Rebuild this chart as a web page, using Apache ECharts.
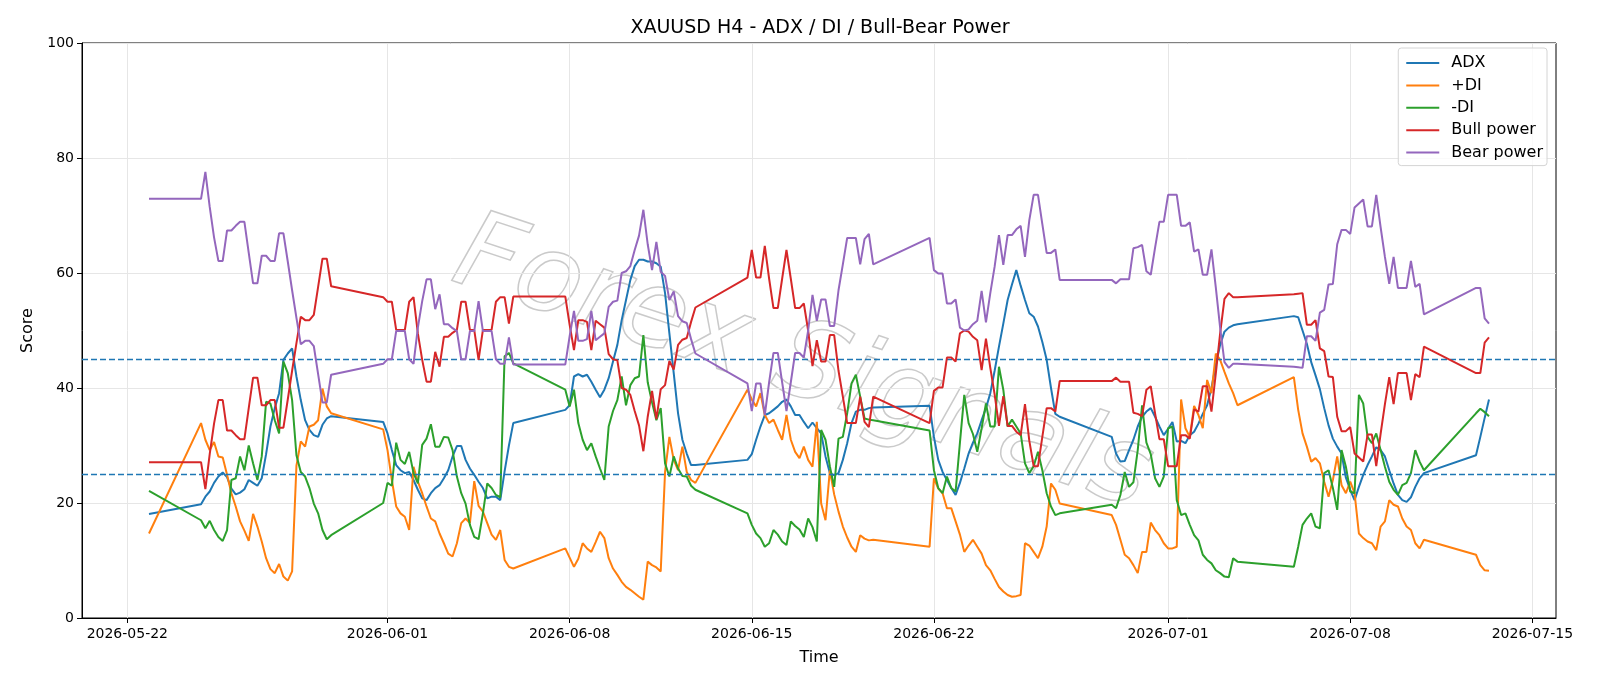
<!DOCTYPE html>
<html>
<head>
<meta charset="utf-8">
<title>XAUUSD H4 - ADX / DI / Bull-Bear Power</title>
<script src="https://cdn.jsdelivr.net/npm/echarts@6/dist/echarts.min.js"></script>
<style>
    html, body { margin: 0; padding: 0; background: #fff; }
    #chart { width: 1600px; height: 686px; }
</style>
</head>
<body>
<div id="chart"></div>
<script>
// H4 bars, 'MM-DD HH' (2026)
var adx = [
    ['05-22 20',18.1],
    ['05-24 20',19.8],['05-25 00',21.1],['05-25 04',22.0],['05-25 08',23.5],['05-25 12',24.6],['05-25 16',25.3],['05-25 20',24.5],
    ['05-26 00',22.5],['05-26 04',21.5],['05-26 08',21.8],['05-26 12',22.4],['05-26 16',24.0],['05-26 20',23.5],
    ['05-27 00',23.0],['05-27 04',24.3],['05-27 08',28.5],['05-27 12',33.3],['05-27 16',36.5],['05-27 20',39.1],
    ['05-28 00',44.9],['05-28 04',46.0],['05-28 08',46.9],['05-28 12',42.0],['05-28 16',37.9],['05-28 20',34.4],
    ['05-29 00',32.7],['05-29 04',31.8],['05-29 08',31.5],['05-29 12',33.6],['05-29 16',34.7],['05-29 20',35.1],
    ['05-31 20',34.1],
    ['06-01 00',32.1],['06-01 04',29.2],['06-01 08',26.6],['06-01 12',25.7],['06-01 16',25.2],['06-01 20',25.4],
    ['06-02 00',24.0],['06-02 04',22.3],['06-02 08',20.8],['06-02 12',20.5],['06-02 16',21.7],['06-02 20',22.6],
    ['06-03 00',23.1],['06-03 04',24.3],['06-03 08',25.7],['06-03 12',28.1],['06-03 16',29.9],['06-03 20',29.9],
    ['06-04 00',27.5],['06-04 04',26.0],['06-04 08',24.9],['06-04 12',23.7],['06-04 16',22.6],['06-04 20',20.8],
    ['06-05 00',21.1],['06-05 04',21.1],['06-05 08',20.5],['06-05 12',25.5],['06-05 16',30.0],['06-05 20',33.9],
    ['06-07 20',36.2],
    ['06-08 00',37.0],['06-08 04',42.0],['06-08 08',42.4],['06-08 12',42.0],['06-08 16',42.3],['06-08 20',41.1],
    ['06-09 00',39.7],['06-09 04',38.4],['06-09 08',39.7],['06-09 12',41.7],['06-09 16',44.6],['06-09 20',47.5],
    ['06-10 00',51.8],['06-10 04',55.3],['06-10 08',58.8],['06-10 12',61.2],['06-10 16',62.3],['06-10 20',62.3],
    ['06-11 00',62.0],['06-11 04',62.0],['06-11 08',61.7],['06-11 12',61.1],['06-11 16',56.5],['06-11 20',49.5],
    ['06-12 00',42.6],['06-12 04',35.6],['06-12 08',31.0],['06-12 12',28.6],['06-12 16',26.6],['06-12 20',26.6],
    ['06-14 20',27.5],
    ['06-15 00',28.5],['06-15 04',31.0],['06-15 08',33.3],['06-15 12',35.3],['06-15 16',35.6],['06-15 20',36.2],
    ['06-16 00',36.8],['06-16 04',37.6],['06-16 08',38.0],['06-16 12',36.8],['06-16 16',35.3],['06-16 20',35.3],
    ['06-17 00',34.1],['06-17 04',33.0],['06-17 08',34.0],['06-17 12',33.0],['06-17 16',32.1],['06-17 20',28.1],
    ['06-18 00',25.2],['06-18 04',24.8],['06-18 08',25.2],['06-18 12',27.5],['06-18 16',30.4],['06-18 20',33.9],
    ['06-19 00',35.9],['06-19 04',36.2],['06-19 08',36.2],['06-19 12',36.5],['06-19 16',36.6],
    ['06-21 20',36.9],
    ['06-22 00',31.5],['06-22 04',27.5],['06-22 08',25.4],['06-22 12',24.0],['06-22 16',22.6],['06-22 20',21.4],
    ['06-23 00',23.5],['06-23 04',26.0],['06-23 08',28.6],['06-23 12',30.5],['06-23 16',32.1],['06-23 20',34.4],
    ['06-24 00',36.5],['06-24 04',39.1],['06-24 08',43.0],['06-24 12',47.2],['06-24 16',51.2],['06-24 20',55.3],
    ['06-25 00',58.0],['06-25 04',60.5],['06-25 08',57.8],['06-25 12',55.3],['06-25 16',53.0],['06-25 20',52.4],
    ['06-26 00',50.7],['06-26 04',48.0],['06-26 08',44.9],['06-26 12',40.0],['06-26 16',35.5],['06-26 20',35.0],
    ['06-28 20',31.5],
    ['06-29 00',28.6],['06-29 04',27.2],['06-29 08',27.3],['06-29 12',29.2],['06-29 16',31.0],['06-29 20',33.3],
    ['06-30 00',35.0],['06-30 04',35.9],['06-30 08',36.5],['06-30 12',35.0],['06-30 16',33.3],['06-30 20',31.8],
    ['07-01 00',32.9],['07-01 04',34.1],['07-01 08',30.7],['07-01 12',30.8],['07-01 16',30.4],['07-01 20',31.8],
    ['07-02 00',32.4],['07-02 04',33.8],['07-02 08',35.5],['07-02 12',37.0],['07-02 16',40.0],['07-02 20',44.0],
    ['07-03 00',47.5],['07-03 04',49.8],['07-03 08',50.5],['07-03 12',50.9],['07-03 16',51.1],
    ['07-05 20',52.5],
    ['07-06 00',52.3],['07-06 04',50.0],['07-06 08',47.7],['07-06 12',44.5],['07-06 16',42.2],['07-06 20',39.8],
    ['07-07 00',36.5],['07-07 04',33.5],['07-07 08',31.2],['07-07 12',29.8],['07-07 16',28.6],['07-07 20',24.4],
    ['07-08 00',22.3],['07-08 04',20.5],['07-08 08',22.8],['07-08 12',24.9],['07-08 16',26.6],['07-08 20',28.1],
    ['07-09 00',29.7],['07-09 04',29.2],['07-09 08',28.1],['07-09 12',25.7],['07-09 16',23.4],['07-09 20',21.4],
    ['07-10 00',20.5],['07-10 04',20.2],['07-10 08',21.0],['07-10 12',22.8],['07-10 16',24.3],['07-10 20',25.2],
    ['07-12 20',28.3],
    ['07-13 00',31.5],['07-13 04',34.8],['07-13 08',38.0]
];

var plusDI = [
    ['05-22 20',14.7],
    ['05-24 20',33.9],['05-25 00',31.0],['05-25 04',29.2],['05-25 08',30.6],['05-25 12',28.1],['05-25 16',27.9],['05-25 20',24.9],
    ['05-26 00',21.7],['05-26 04',19.4],['05-26 08',16.8],['05-26 12',15.2],['05-26 16',13.4],['05-26 20',18.1],
    ['05-27 00',15.9],['05-27 04',13.3],['05-27 08',10.4],['05-27 12',8.5],['05-27 16',7.8],['05-27 20',9.4],
    ['05-28 00',7.2],['05-28 04',6.5],['05-28 08',8.1],['05-28 12',26.5],['05-28 16',30.7],['05-28 20',29.8],
    ['05-29 00',33.3],['05-29 04',33.6],['05-29 08',34.4],['05-29 12',39.9],['05-29 16',36.8],['05-29 20',35.6],
    ['05-31 20',32.8],
    ['06-01 00',29.2],['06-01 04',24.0],['06-01 08',19.4],['06-01 12',18.2],['06-01 16',17.6],['06-01 20',15.3],
    ['06-02 00',26.3],['06-02 04',23.7],['06-02 08',21.7],['06-02 12',19.4],['06-02 16',17.3],['06-02 20',16.8],
    ['06-03 00',14.7],['06-03 04',13.0],['06-03 08',11.2],['06-03 12',10.7],['06-03 16',13.0],['06-03 20',16.5],
    ['06-04 00',17.3],['06-04 04',16.5],['06-04 08',23.8],['06-04 12',19.5],['06-04 16',18.5],['06-04 20',16.5],
    ['06-05 00',14.5],['06-05 04',13.6],['06-05 08',15.3],['06-05 12',10.1],['06-05 16',8.9],['06-05 20',8.6],
    ['06-07 20',12.1],
    ['06-08 00',10.5],['06-08 04',8.9],['06-08 08',10.3],['06-08 12',13.0],['06-08 16',12.1],['06-08 20',11.5],
    ['06-09 00',13.2],['06-09 04',15.0],['06-09 08',13.9],['06-09 12',10.4],['06-09 16',8.6],['06-09 20',7.5],
    ['06-10 00',6.3],['06-10 04',5.4],['06-10 08',4.9],['06-10 12',4.3],['06-10 16',3.7],['06-10 20',3.2],
    ['06-11 00',9.8],['06-11 04',9.2],['06-11 08',8.8],['06-11 12',8.1],['06-11 16',25.4],['06-11 20',31.5],
    ['06-12 00',27.5],['06-12 04',25.7],['06-12 08',29.8],['06-12 12',25.4],['06-12 16',24.0],['06-12 20',23.5],
    ['06-14 20',39.7],
    ['06-15 00',38.0],['06-15 04',36.8],['06-15 08',39.1],['06-15 12',35.3],['06-15 16',33.9],['06-15 20',34.5],
    ['06-16 00',32.7],['06-16 04',31.0],['06-16 08',35.3],['06-16 12',31.0],['06-16 16',28.9],['06-16 20',27.8],
    ['06-17 00',29.8],['06-17 04',27.5],['06-17 08',26.3],['06-17 12',34.1],['06-17 16',19.9],['06-17 20',17.0],
    ['06-18 00',25.7],['06-18 04',21.5],['06-18 08',18.5],['06-18 12',15.9],['06-18 16',14.0],['06-18 20',12.4],
    ['06-19 00',11.5],['06-19 04',14.4],['06-19 08',13.8],['06-19 12',13.5],['06-19 16',13.6],
    ['06-21 20',12.4],
    ['06-22 00',24.3],['06-22 04',22.5],['06-22 08',21.7],['06-22 12',19.1],['06-22 16',19.1],['06-22 20',16.8],
    ['06-23 00',14.5],['06-23 04',11.5],['06-23 08',12.6],['06-23 12',13.6],['06-23 16',12.4],['06-23 20',11.2],
    ['06-24 00',9.2],['06-24 04',8.3],['06-24 08',6.8],['06-24 12',5.4],['06-24 16',4.6],['06-24 20',4.0],
    ['06-25 00',3.7],['06-25 04',3.8],['06-25 08',4.0],['06-25 12',13.0],['06-25 16',12.6],['06-25 20',11.5],
    ['06-26 00',10.4],['06-26 04',12.4],['06-26 08',15.9],['06-26 12',23.4],['06-26 16',22.3],['06-26 20',19.9],
    ['06-28 20',17.9],
    ['06-29 00',16.2],['06-29 04',13.6],['06-29 08',11.0],['06-29 12',10.4],['06-29 16',9.2],['06-29 20',7.8],
    ['06-30 00',11.5],['06-30 04',11.5],['06-30 08',16.6],['06-30 12',15.3],['06-30 16',14.4],['06-30 20',13.0],
    ['07-01 00',12.1],['07-01 04',12.1],['07-01 08',12.4],['07-01 12',38.0],['07-01 16',33.0],['07-01 20',31.5],
    ['07-02 00',36.9],['07-02 04',35.3],['07-02 08',33.0],['07-02 12',41.4],['07-02 16',39.1],['07-02 20',46.0],
    ['07-03 00',44.9],['07-03 04',42.8],['07-03 08',40.8],['07-03 12',39.1],['07-03 16',37.0],
    ['07-05 20',41.9],
    ['07-06 00',36.2],['07-06 04',32.1],['07-06 08',29.8],['07-06 12',27.2],['07-06 16',27.8],['07-06 20',26.9],
    ['07-07 00',23.7],['07-07 04',21.1],['07-07 08',24.0],['07-07 12',28.1],['07-07 16',23.1],['07-07 20',21.7],
    ['07-08 00',23.7],['07-08 04',21.7],['07-08 08',14.7],['07-08 12',13.9],['07-08 16',13.3],['07-08 20',13.0],
    ['07-09 00',11.8],['07-09 04',15.9],['07-09 08',16.8],['07-09 12',20.5],['07-09 16',19.7],['07-09 20',19.4],
    ['07-10 00',17.3],['07-10 04',15.9],['07-10 08',15.3],['07-10 12',13.0],['07-10 16',12.1],['07-10 20',13.6],
    ['07-12 20',11.0],
    ['07-13 00',9.2],['07-13 04',8.3],['07-13 08',8.2]
];

var minusDI = [
    ['05-22 20',22.1],
    ['05-24 20',17.0],['05-25 00',15.6],['05-25 04',16.9],['05-25 08',15.3],['05-25 12',14.1],['05-25 16',13.4],['05-25 20',15.3],
    ['05-26 00',24.0],['05-26 04',24.3],['05-26 08',28.1],['05-26 12',25.7],['05-26 16',30.0],['05-26 20',26.9],
    ['05-27 00',24.0],['05-27 04',28.1],['05-27 08',37.6],['05-27 12',37.3],['05-27 16',34.4],['05-27 20',32.1],
    ['05-28 00',44.6],['05-28 04',42.6],['05-28 08',37.9],['05-28 12',28.3],['05-28 16',25.4],['05-28 20',24.6],
    ['05-29 00',22.6],['05-29 04',19.9],['05-29 08',18.2],['05-29 12',15.3],['05-29 16',13.7],['05-29 20',14.4],
    ['05-31 20',20.0],
    ['06-01 00',23.5],['06-01 04',23.0],['06-01 08',30.5],['06-01 12',27.5],['06-01 16',26.8],['06-01 20',28.9],
    ['06-02 00',25.2],['06-02 04',23.4],['06-02 08',30.1],['06-02 12',31.2],['06-02 16',33.7],['06-02 20',29.8],
    ['06-03 00',29.8],['06-03 04',31.5],['06-03 08',31.4],['06-03 12',29.2],['06-03 16',24.6],['06-03 20',21.7],
    ['06-04 00',19.9],['06-04 04',16.2],['06-04 08',14.1],['06-04 12',13.7],['06-04 16',18.2],['06-04 20',23.4],
    ['06-05 00',22.6],['06-05 04',21.4],['06-05 08',21.0],['06-05 12',45.5],['06-05 16',46.1],['06-05 20',44.3],
    ['06-07 20',39.7],
    ['06-08 00',36.8],['06-08 04',39.7],['06-08 08',33.9],['06-08 12',31.0],['06-08 16',29.2],['06-08 20',30.4],
    ['06-09 00',28.1],['06-09 04',26.0],['06-09 08',24.0],['06-09 12',33.3],['06-09 16',36.0],['06-09 20',37.9],
    ['06-10 00',42.0],['06-10 04',37.0],['06-10 08',40.5],['06-10 12',41.7],['06-10 16',42.0],['06-10 20',49.2],
    ['06-11 00',41.0],['06-11 04',37.5],['06-11 08',34.4],['06-11 12',36.5],['06-11 16',26.9],['06-11 20',24.6],
    ['06-12 00',28.1],['06-12 04',26.0],['06-12 08',24.7],['06-12 12',24.6],['06-12 16',23.0],['06-12 20',22.3],
    ['06-14 20',18.2],
    ['06-15 00',16.2],['06-15 04',14.7],['06-15 08',13.9],['06-15 12',12.4],['06-15 16',13.0],['06-15 20',15.3],
    ['06-16 00',14.5],['06-16 04',13.3],['06-16 08',12.7],['06-16 12',16.8],['06-16 16',16.0],['06-16 20',15.4],
    ['06-17 00',14.1],['06-17 04',17.3],['06-17 08',15.8],['06-17 12',13.3],['06-17 16',32.7],['06-17 20',31.0],
    ['06-18 00',26.4],['06-18 04',22.8],['06-18 08',31.2],['06-18 12',31.5],['06-18 16',35.6],['06-18 20',40.8],
    ['06-19 00',42.3],['06-19 04',38.5],['06-19 08',34.7],['06-19 12',34.5],['06-19 16',34.4],
    ['06-21 20',32.6],
    ['06-22 00',25.7],['06-22 04',22.6],['06-22 08',21.7],['06-22 12',24.6],['06-22 16',22.6],['06-22 20',22.0],
    ['06-23 00',30.5],['06-23 04',38.8],['06-23 08',33.9],['06-23 12',32.0],['06-23 16',28.9],['06-23 20',33.0],
    ['06-24 00',37.3],['06-24 04',33.3],['06-24 08',33.3],['06-24 12',43.7],['06-24 16',39.7],['06-24 20',33.3],
    ['06-25 00',34.5],['06-25 04',33.3],['06-25 08',32.1],['06-25 12',26.9],['06-25 16',25.2],['06-25 20',26.4],
    ['06-26 00',28.9],['06-26 04',25.7],['06-26 08',21.7],['06-26 12',19.4],['06-26 16',17.9],['06-26 20',18.2],
    ['06-28 20',19.7],
    ['06-29 00',19.1],['06-29 04',21.4],['06-29 08',25.4],['06-29 12',22.8],['06-29 16',23.6],['06-29 20',29.2],
    ['06-30 00',37.0],['06-30 04',30.5],['06-30 08',28.5],['06-30 12',24.3],['06-30 16',22.8],['06-30 20',24.6],
    ['07-01 00',33.0],['07-01 04',33.3],['07-01 08',20.5],['07-01 12',17.9],['07-01 16',18.2],['07-01 20',16.2],
    ['07-02 00',14.4],['07-02 04',13.5],['07-02 08',11.0],['07-02 12',10.1],['07-02 16',9.5],['07-02 20',8.3],
    ['07-03 00',7.8],['07-03 04',7.2],['07-03 08',7.1],['07-03 12',10.4],['07-03 16',9.8],
    ['07-05 20',8.9],
    ['07-06 00',12.4],['07-06 04',16.2],['07-06 08',17.3],['07-06 12',18.2],['07-06 16',15.9],['07-06 20',15.6],
    ['07-07 00',25.2],['07-07 04',25.7],['07-07 08',22.6],['07-07 12',18.8],['07-07 16',29.2],['07-07 20',26.3],
    ['07-08 00',22.0],['07-08 04',21.7],['07-08 08',38.8],['07-08 12',37.3],['07-08 16',31.5],['07-08 20',30.4],
    ['07-09 00',32.1],['07-09 04',29.2],['07-09 08',26.3],['07-09 12',23.7],['07-09 16',22.3],['07-09 20',21.4],
    ['07-10 00',23.1],['07-10 04',23.5],['07-10 08',25.2],['07-10 12',29.2],['07-10 16',27.2],['07-10 20',25.7],
    ['07-12 20',35.6],
    ['07-13 00',36.4],['07-13 04',35.8],['07-13 08',35.1]
];

var bullPower = [
    ['05-22 20',27.1],
    ['05-24 20',27.1],['05-25 00',22.4],['05-25 04',28.5],['05-25 08',33.8],['05-25 12',37.9],['05-25 16',37.9],['05-25 20',32.6],
    ['05-26 00',32.6],['05-26 04',31.8],['05-26 08',31.1],['05-26 12',31.1],['05-26 16',36.5],['05-26 20',41.8],
    ['05-27 00',41.8],['05-27 04',37.0],['05-27 08',37.0],['05-27 12',37.9],['05-27 16',37.9],['05-27 20',33.1],
    ['05-28 00',33.1],['05-28 04',38.0],['05-28 08',43.0],['05-28 12',47.8],['05-28 16',52.4],['05-28 20',51.8],
    ['05-29 00',51.8],['05-29 04',52.7],['05-29 08',57.6],['05-29 12',62.5],['05-29 16',62.5],['05-29 20',57.7],
    ['05-31 20',55.8],
    ['06-01 00',55.0],['06-01 04',55.0],['06-01 08',50.1],['06-01 12',50.1],['06-01 16',50.1],['06-01 20',55.0],
    ['06-02 00',55.8],['06-02 04',49.5],['06-02 08',44.9],['06-02 12',41.1],['06-02 16',41.1],['06-02 20',46.3],
    ['06-03 00',43.7],['06-03 04',48.9],['06-03 08',48.9],['06-03 12',49.6],['06-03 16',50.1],['06-03 20',55.0],
    ['06-04 00',55.0],['06-04 04',50.1],['06-04 08',50.1],['06-04 12',44.9],['06-04 16',50.1],['06-04 20',50.1],
    ['06-05 00',50.1],['06-05 04',55.0],['06-05 08',55.8],['06-05 12',55.8],['06-05 16',51.2],['06-05 20',55.9],
    ['06-07 20',55.9],
    ['06-08 00',51.0],['06-08 04',46.6],['06-08 08',51.8],['06-08 12',51.8],['06-08 16',51.5],['06-08 20',46.6],
    ['06-09 00',51.7],['06-09 04',51.1],['06-09 08',50.5],['06-09 12',45.9],['06-09 16',45.0],['06-09 20',44.8],
    ['06-10 00',40.0],['06-10 04',39.7],['06-10 08',38.8],['06-10 12',36.0],['06-10 16',33.5],['06-10 20',29.0],
    ['06-11 00',35.0],['06-11 04',39.5],['06-11 08',34.6],['06-11 12',39.8],['06-11 16',40.5],['06-11 20',44.7],
    ['06-12 00',43.2],['06-12 04',47.5],['06-12 08',48.4],['06-12 12',48.7],['06-12 16',51.5],['06-12 20',54.0],
    ['06-14 20',59.2],
    ['06-15 00',64.0],['06-15 04',59.2],['06-15 08',59.2],['06-15 12',64.7],['06-15 16',59.0],['06-15 20',53.9],
    ['06-16 00',53.9],['06-16 04',59.0],['06-16 08',64.0],['06-16 12',59.0],['06-16 16',53.9],['06-16 20',53.9],
    ['06-17 00',54.7],['06-17 04',50.0],['06-17 08',43.8],['06-17 12',48.3],['06-17 16',44.6],['06-17 20',44.6],
    ['06-18 00',49.2],['06-18 04',49.2],['06-18 08',43.0],['06-18 12',38.5],['06-18 16',33.9],['06-18 20',33.9],
    ['06-19 00',33.9],['06-19 04',38.5],['06-19 08',34.1],['06-19 12',33.2],['06-19 16',38.5],
    ['06-21 20',33.9],
    ['06-22 00',39.5],['06-22 04',40.1],['06-22 08',40.1],['06-22 12',45.3],['06-22 16',45.3],['06-22 20',44.6],
    ['06-23 00',49.5],['06-23 04',50.0],['06-23 08',49.8],['06-23 12',48.9],['06-23 16',48.3],['06-23 20',43.1],
    ['06-24 00',48.6],['06-24 04',43.5],['06-24 08',38.9],['06-24 12',33.4],['06-24 16',38.6],['06-24 20',33.4],
    ['06-25 00',33.4],['06-25 04',32.4],['06-25 08',31.8],['06-25 12',37.2],['06-25 16',30.8],['06-25 20',26.4],
    ['06-26 00',26.4],['06-26 04',31.5],['06-26 08',36.5],['06-26 12',36.5],['06-26 16',35.9],['06-26 20',41.2],
    ['06-28 20',41.2],
    ['06-29 00',41.8],['06-29 04',41.1],['06-29 08',41.1],['06-29 12',41.1],['06-29 16',35.7],['06-29 20',35.5],
    ['06-30 00',35.1],['06-30 04',39.7],['06-30 08',40.3],['06-30 12',35.6],['06-30 16',31.1],['06-30 20',31.1],
    ['07-01 00',26.4],['07-01 04',26.4],['07-01 08',26.4],['07-01 12',31.8],['07-01 16',31.8],['07-01 20',31.2],
    ['07-02 00',36.3],['07-02 04',35.9],['07-02 08',40.3],['07-02 12',40.3],['07-02 16',35.9],['07-02 20',42.5],
    ['07-03 00',49.5],['07-03 04',55.5],['07-03 08',56.5],['07-03 12',55.8],['07-03 16',55.8],
    ['07-05 20',56.3],
    ['07-06 00',56.4],['07-06 04',56.5],['07-06 08',51.0],['07-06 12',51.0],['07-06 16',51.8],['07-06 20',46.9],
    ['07-07 00',46.4],['07-07 04',42.0],['07-07 08',41.9],['07-07 12',35.0],['07-07 16',32.5],['07-07 20',32.5],
    ['07-08 00',33.2],['07-08 04',28.6],['07-08 08',27.9],['07-08 12',27.2],['07-08 16',31.9],['07-08 20',31.9],
    ['07-09 00',26.4],['07-09 04',32.0],['07-09 08',37.2],['07-09 12',41.9],['07-09 16',37.2],['07-09 20',42.6],
    ['07-10 00',42.6],['07-10 04',42.6],['07-10 08',37.9],['07-10 12',42.4],['07-10 16',41.9],['07-10 20',47.2],
    ['07-12 20',42.6],
    ['07-13 00',42.6],['07-13 04',47.9],['07-13 08',48.8]
];

var bearPower = [
    ['05-22 20',72.9],
    ['05-24 20',72.9],['05-25 00',77.6],['05-25 04',71.5],['05-25 08',66.2],['05-25 12',62.1],['05-25 16',62.1],['05-25 20',67.4],
    ['05-26 00',67.4],['05-26 04',68.2],['05-26 08',68.9],['05-26 12',68.9],['05-26 16',63.5],['05-26 20',58.2],
    ['05-27 00',58.2],['05-27 04',63.0],['05-27 08',63.0],['05-27 12',62.1],['05-27 16',62.1],['05-27 20',66.9],
    ['05-28 00',66.9],['05-28 04',62.0],['05-28 08',57.0],['05-28 12',52.2],['05-28 16',47.6],['05-28 20',48.2],
    ['05-29 00',48.2],['05-29 04',47.3],['05-29 08',42.4],['05-29 12',37.5],['05-29 16',37.5],['05-29 20',42.3],
    ['05-31 20',44.2],
    ['06-01 00',45.0],['06-01 04',45.0],['06-01 08',49.9],['06-01 12',49.9],['06-01 16',49.9],['06-01 20',45.0],
    ['06-02 00',44.2],['06-02 04',50.5],['06-02 08',55.1],['06-02 12',58.9],['06-02 16',58.9],['06-02 20',53.7],
    ['06-03 00',56.3],['06-03 04',51.1],['06-03 08',51.1],['06-03 12',50.4],['06-03 16',49.9],['06-03 20',45.0],
    ['06-04 00',45.0],['06-04 04',49.9],['06-04 08',49.9],['06-04 12',55.1],['06-04 16',49.9],['06-04 20',49.9],
    ['06-05 00',49.9],['06-05 04',45.0],['06-05 08',44.2],['06-05 12',44.2],['06-05 16',48.8],['06-05 20',44.1],
    ['06-07 20',44.1],
    ['06-08 00',49.0],['06-08 04',53.4],['06-08 08',48.2],['06-08 12',48.2],['06-08 16',48.5],['06-08 20',53.4],
    ['06-09 00',48.3],['06-09 04',48.9],['06-09 08',49.5],['06-09 12',54.1],['06-09 16',55.0],['06-09 20',55.2],
    ['06-10 00',60.0],['06-10 04',60.3],['06-10 08',61.2],['06-10 12',64.0],['06-10 16',66.5],['06-10 20',71.0],
    ['06-11 00',65.0],['06-11 04',60.5],['06-11 08',65.4],['06-11 12',60.2],['06-11 16',59.5],['06-11 20',55.3],
    ['06-12 00',56.8],['06-12 04',52.5],['06-12 08',51.6],['06-12 12',51.3],['06-12 16',48.5],['06-12 20',46.0],
    ['06-14 20',40.8],
    ['06-15 00',36.0],['06-15 04',40.8],['06-15 08',40.8],['06-15 12',35.3],['06-15 16',41.0],['06-15 20',46.1],
    ['06-16 00',46.1],['06-16 04',41.0],['06-16 08',36.0],['06-16 12',41.0],['06-16 16',46.1],['06-16 20',46.1],
    ['06-17 00',45.3],['06-17 04',50.0],['06-17 08',56.2],['06-17 12',51.7],['06-17 16',55.4],['06-17 20',55.4],
    ['06-18 00',50.8],['06-18 04',50.8],['06-18 08',57.0],['06-18 12',61.5],['06-18 16',66.1],['06-18 20',66.1],
    ['06-19 00',66.1],['06-19 04',61.5],['06-19 08',65.9],['06-19 12',66.8],['06-19 16',61.5],
    ['06-21 20',66.1],
    ['06-22 00',60.5],['06-22 04',59.9],['06-22 08',59.9],['06-22 12',54.7],['06-22 16',54.7],['06-22 20',55.4],
    ['06-23 00',50.5],['06-23 04',50.0],['06-23 08',50.2],['06-23 12',51.1],['06-23 16',51.7],['06-23 20',56.9],
    ['06-24 00',51.4],['06-24 04',56.5],['06-24 08',61.1],['06-24 12',66.6],['06-24 16',61.4],['06-24 20',66.6],
    ['06-25 00',66.6],['06-25 04',67.6],['06-25 08',68.2],['06-25 12',62.8],['06-25 16',69.2],['06-25 20',73.6],
    ['06-26 00',73.6],['06-26 04',68.5],['06-26 08',63.5],['06-26 12',63.5],['06-26 16',64.1],['06-26 20',58.8],
    ['06-28 20',58.8],
    ['06-29 00',58.2],['06-29 04',58.9],['06-29 08',58.9],['06-29 12',58.9],['06-29 16',64.3],['06-29 20',64.5],
    ['06-30 00',64.9],['06-30 04',60.3],['06-30 08',59.7],['06-30 12',64.4],['06-30 16',68.9],['06-30 20',68.9],
    ['07-01 00',73.6],['07-01 04',73.6],['07-01 08',73.6],['07-01 12',68.2],['07-01 16',68.2],['07-01 20',68.8],
    ['07-02 00',63.7],['07-02 04',64.1],['07-02 08',59.7],['07-02 12',59.7],['07-02 16',64.1],['07-02 20',57.5],
    ['07-03 00',50.5],['07-03 04',44.5],['07-03 08',43.5],['07-03 12',44.2],['07-03 16',44.2],
    ['07-05 20',43.7],
    ['07-06 00',43.6],['07-06 04',43.5],['07-06 08',49.0],['07-06 12',49.0],['07-06 16',48.2],['07-06 20',53.1],
    ['07-07 00',53.6],['07-07 04',58.0],['07-07 08',58.1],['07-07 12',65.0],['07-07 16',67.5],['07-07 20',67.5],
    ['07-08 00',66.8],['07-08 04',71.4],['07-08 08',72.1],['07-08 12',72.8],['07-08 16',68.1],['07-08 20',68.1],
    ['07-09 00',73.6],['07-09 04',68.0],['07-09 08',62.8],['07-09 12',58.1],['07-09 16',62.8],['07-09 20',57.4],
    ['07-10 00',57.4],['07-10 04',57.4],['07-10 08',62.1],['07-10 12',57.6],['07-10 16',58.1],['07-10 20',52.8],
    ['07-12 20',57.4],
    ['07-13 00',57.4],['07-13 04',52.1],['07-13 08',51.2]
];

var seriesNames = ['ADX', '+DI', '-DI', 'Bull power', 'Bear power'];
var seriesColors = ['#1f77b4', '#ff7f0e', '#2ca02c', '#d62728', '#9467bd'];
var xTickDates = ['2026-05-22', '2026-06-01', '2026-06-08', '2026-06-15', '2026-06-22', '2026-07-01', '2026-07-08', '2026-07-15'];
var thresholds = [25, 45];

var FONT = '"DejaVu Sans", "Liberation Sans", sans-serif';

function toTime(s) {
    return new Date('2026-' + s.slice(0, 5) + 'T' + s.slice(6) + ':00:00').getTime();
}
function toPoints(arr) {
    return arr.map(function(p) { return [toTime(p[0]), p[1]]; });
}
function pad2(n) { return n < 10 ? '0' + n : '' + n; }

var allSeries = [adx, plusDI, minusDI, bullPower, bearPower].map(toPoints);

// matplotlib-style 5% margin on the time range
var tFirst = allSeries[0][0][0];
var tLast = allSeries[0][allSeries[0].length - 1][0];
var tPad = (tLast - tFirst) * 0.05;
var xTicks = xTickDates.map(function(d) { return new Date(d + 'T00:00:00').getTime(); });

var chart = echarts.init(document.getElementById('chart'), null, { renderer: 'canvas' });

var series = allSeries.map(function(data, i) {
    var s = {
        name: seriesNames[i],
        type: 'line',
        data: data,
        showSymbol: false,
        symbol: 'none',
        z: 2 + i,
        lineStyle: { color: seriesColors[i], width: 2 },
        itemStyle: { color: seriesColors[i] }
    };
    if (i === allSeries.length - 1) {
        s.markLine = {
            silent: true,
            symbol: ['none', 'none'],
            label: { show: false },
            lineStyle: { color: '#1f77b4', type: [6, 3], width: 1.3 },
            data: thresholds.map(function(v) { return { yAxis: v }; })
        };
    }
    return s;
});

var option = {
    animation: false,
    backgroundColor: '#ffffff',
    title: {
        text: 'XAUUSD H4 - ADX / DI / Bull-Bear Power',
        left: 815,
        top: 14,
        textAlign: 'center',
        textStyle: { fontFamily: FONT, fontSize: 19, fontWeight: 'normal', color: '#000' }
    },
    legend: {
        data: seriesNames,
        orient: 'vertical',
        right: 53,
        top: 48,
        icon: 'rect',
        itemWidth: 33,
        itemHeight: 2,
        itemGap: 6.4,
        padding: [7, 4, 5, 8],
        backgroundColor: 'rgba(255,255,255,0.8)',
        borderColor: '#d4d4d4',
        borderWidth: 1,
        borderRadius: 3,
        textStyle: { fontFamily: FONT, fontSize: 16, color: '#000', padding: [0, 0, 0, 7] }
    },
    graphic: [{
        type: 'text',
        x: 802,
        y: 367,
        rotation: -0.32,
        silent: true,
        z: 0,
        style: {
            text: 'Forex Signals',
            font: 'italic 200 108px ' + FONT,
            fill: 'rgba(255,255,255,0)',
            stroke: 'rgba(150,150,150,0.5)',
            lineWidth: 1.5,
            align: 'center',
            verticalAlign: 'middle',
            textAlign: 'center',
            textVerticalAlign: 'middle'
        }
    }],
    grid: {
        left: 82,
        right: 44,
        top: 43,
        bottom: 68,
        show: true,
        borderColor: '#000',
        borderWidth: 1,
        backgroundColor: 'transparent'
    },
    xAxis: {
        type: 'value',
        min: tFirst - tPad,
        max: tLast + tPad,
        name: 'Time',
        nameLocation: 'middle',
        nameGap: 32,
        nameTextStyle: { fontFamily: FONT, fontSize: 16, color: '#000' },
        axisLine: { show: true, onZero: false, lineStyle: { color: '#000', width: 1 } },
        axisTick: { show: true, length: 5, lineStyle: { color: '#000' }, customValues: xTicks },
        axisLabel: {
            customValues: xTicks,
            hideOverlap: false,
            fontFamily: FONT,
            fontSize: 14,
            color: '#000',
            margin: 9,
            formatter: function(v) {
                var d = new Date(v);
                return d.getFullYear() + '-' + pad2(d.getMonth() + 1) + '-' + pad2(d.getDate());
            }
        },
        splitLine: { show: true, lineStyle: { color: '#e6e6e6', width: 1 } }
    },
    yAxis: {
        type: 'value',
        min: 0,
        max: 100,
        interval: 20,
        name: 'Score',
        nameLocation: 'middle',
        nameGap: 46,
        nameRotate: 90,
        nameTextStyle: { fontFamily: FONT, fontSize: 16, color: '#000' },
        axisLine: { show: true, lineStyle: { color: '#000', width: 1 } },
        axisTick: { show: true, length: 5, lineStyle: { color: '#000' } },
        axisLabel: { fontFamily: FONT, fontSize: 14, color: '#000', margin: 8 },
        splitLine: { show: true, lineStyle: { color: '#e6e6e6', width: 1 } }
    },
    series: series
};

chart.setOption(option);
</script>
</body>
</html>
